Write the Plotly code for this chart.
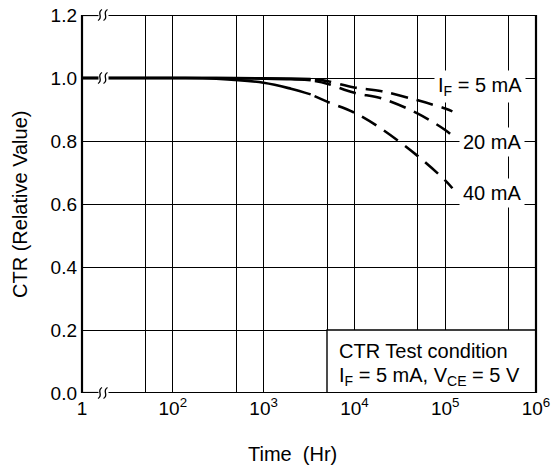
import plotly.graph_objects as go

# ---------------- data ----------------
# Time (Hr); the axis is broken after "1", which is drawn where 10 would sit on the log scale
time_solid = [1, 100, 300, 1000, 2000, 3300]
time_dash = [3300, 5000, 10000, 20000, 50000, 100000, 120000]

ctr_5mA_solid = [1.0, 1.0, 1.0, 0.999, 0.998, 0.997]
ctr_20mA_solid = [1.0, 1.0, 1.0, 0.998, 0.996, 0.993]
ctr_40mA_solid = [1.0, 1.0, 0.998, 0.985, 0.966, 0.948]

ctr_5mA_dash = [0.997, 0.990, 0.970, 0.958, 0.929, 0.903, 0.894]
ctr_20mA_dash = [0.993, 0.982, 0.953, 0.935, 0.887, 0.835, 0.817]
ctr_40mA_dash = [0.948, 0.925, 0.890, 0.838, 0.752, 0.675, 0.650]

series_labels = ["I<sub>F</sub> = 5 mA", "20 mA", "40 mA"]

x_tickvals = [1, 100, 1000, 10000, 100000, 1000000]
x_ticktext = ["1", "10<sup>2</sup>", "10<sup>3</sup>", "10<sup>4</sup>", "10<sup>5</sup>", "10<sup>6</sup>"]
x_minor_grid = [50, 500, 5000, 50000, 500000]
y_tickvals = [0.0, 0.2, 0.4, 0.6, 0.8, 1.0, 1.2]
y_ticktext = ["0.0", "0.2", "0.4", "0.6", "0.8", "1.0", "1.2"]

BREAK_POS = 10  # position on the log scale where the "1" tick is drawn (axis break)


def xpos(t):
    return BREAK_POS if t <= 1 else t


FONT = "Liberation Sans, Arial, Helvetica, sans-serif"
W, H = 554, 469
L, R, T, B = 82, 18, 15, 76
PW, PH = W - L - R, H - T - B


def px(x):
    return (x - L) / PW


def py(y):
    return (H - B - y) / PH


fig = go.Figure()

solid_sets = [ctr_5mA_solid, ctr_20mA_solid, ctr_40mA_solid]
dash_sets = [ctr_5mA_dash, ctr_20mA_dash, ctr_40mA_dash]
for s, d in zip(solid_sets, dash_sets):
    fig.add_trace(go.Scatter(x=[xpos(t) for t in time_solid], y=s, mode="lines",
                             line=dict(color="black", width=2.6), line_shape="spline",
                             showlegend=False, hoverinfo="skip"))
    fig.add_trace(go.Scatter(x=[xpos(t) for t in time_dash], y=d, mode="lines",
                             line=dict(color="black", width=2.6, dash="0px,4px,17px,5px"),
                             line_shape="spline", showlegend=False, hoverinfo="skip"))

shapes = []
# test-condition box (white, covers grid)
shapes.append(dict(type="rect", xref="paper", yref="y", x0=px(327), x1=1, y0=0, y1=0.2,
                   fillcolor="white", line=dict(color="black", width=1.4), layer="above"))
# white covers for the axis break
for yv in [0.0, 1.0, 1.2]:
    yc = H - B - yv * PH / 1.2
    shapes.append(dict(type="rect", xref="paper", yref="paper", x0=px(98.5), x1=px(108.5),
                       y0=py(yc + 4), y1=py(yc - 4), fillcolor="white", line=dict(width=0),
                       layer="above"))
# frame lines
shapes.append(dict(type="line", xref="paper", yref="paper", x0=0, x1=0, y0=0, y1=1,
                   line=dict(color="black", width=2.2)))
shapes.append(dict(type="line", xref="paper", yref="paper", x0=1, x1=1, y0=0, y1=1,
                   line=dict(color="black", width=2.2)))
for yv in [0.0, 1.2]:
    shapes.append(dict(type="line", xref="paper", yref="y", x0=0, x1=px(98.5), y0=yv, y1=yv,
                       line=dict(color="black", width=2.2)))
    shapes.append(dict(type="line", xref="paper", yref="y", x0=px(108.5), x1=1, y0=yv, y1=yv,
                       line=dict(color="black", width=2.2)))
# squiggle break marks
for yv in [0.0, 1.0, 1.2]:
    yc = H - B - yv * PH / 1.2
    for x0 in [98.0, 103.5]:
        p = "M {:.5f},{:.5f} C {:.5f},{:.5f} {:.5f},{:.5f} {:.5f},{:.5f}".format(
            px(x0), py(yc + 5.5), px(x0 + 6), py(yc + 2), px(x0 - 2), py(yc - 2),
            px(x0 + 4), py(yc - 5.5))
        shapes.append(dict(type="path", xref="paper", yref="paper", path=p,
                           line=dict(color="black", width=1.3)))

annotations = []
lab_pos = [(437, 86.7), (462, 141.7), (462, 193.3)]
for text, (lx, ly) in zip(series_labels, lab_pos):
    annotations.append(dict(text=text, xref="paper", yref="paper", x=px(lx) - 3 / PW, y=py(ly),
                            xanchor="left", yanchor="middle", showarrow=False,
                            bgcolor="white", borderpad=3,
                            font=dict(family=FONT, size=20, color="black")))
annotations.append(dict(text="CTR Test condition", xref="paper", yref="paper", x=px(337), y=py(351),
                        xanchor="left", yanchor="middle", showarrow=False,
                        font=dict(family=FONT, size=20, color="black")))
annotations.append(dict(text="I<sub>F</sub> = 5 mA, V<sub>CE</sub> = 5 V", xref="paper", yref="paper",
                        x=px(337), y=py(376), xanchor="left", yanchor="middle", showarrow=False,
                        font=dict(family=FONT, size=20, color="black")))
annotations.append(dict(text="Time\u00a0 (Hr)", xref="paper", yref="paper", x=px(292), y=py(454),
                        xanchor="center", yanchor="middle", showarrow=False,
                        font=dict(family=FONT, size=20, color="black")))
annotations.append(dict(text="CTR (Relative Value)", xref="paper", yref="paper", x=px(20), y=py(205),
                        xanchor="center", yanchor="middle", textangle=-90, showarrow=False,
                        font=dict(family=FONT, size=20, color="black")))

fig.update_layout(
    width=W, height=H, margin=dict(l=L, r=R, t=T, b=B, autoexpand=False),
    paper_bgcolor="white", plot_bgcolor="white",
    font=dict(family=FONT, size=19, color="black"),
    shapes=shapes, annotations=annotations,
    xaxis=dict(type="log", range=[1, 6], tickmode="array", automargin=False,
               tickvals=[xpos(v) for v in x_tickvals], ticktext=x_ticktext,
               showgrid=True, gridcolor="black", gridwidth=1.3, showline=False, zeroline=False,
               ticks="", ticklabelstandoff=2,
               minor=dict(tickvals=x_minor_grid, showgrid=True, gridcolor="black", gridwidth=1.3, ticks=""),
               tickfont=dict(family=FONT, size=19, color="black")),
    yaxis=dict(range=[0, 1.2], tickmode="array", tickvals=y_tickvals, ticktext=y_ticktext,
               automargin=False,
               showgrid=True, gridcolor="black", gridwidth=1.3, showline=False, zeroline=False,
               ticks="", ticklabelstandoff=4,
               tickfont=dict(family=FONT, size=19, color="black")),
)

fig.write_html("out.html", config={"displayModeBar": False},
               post_script="document.body.style.margin='0px';")
